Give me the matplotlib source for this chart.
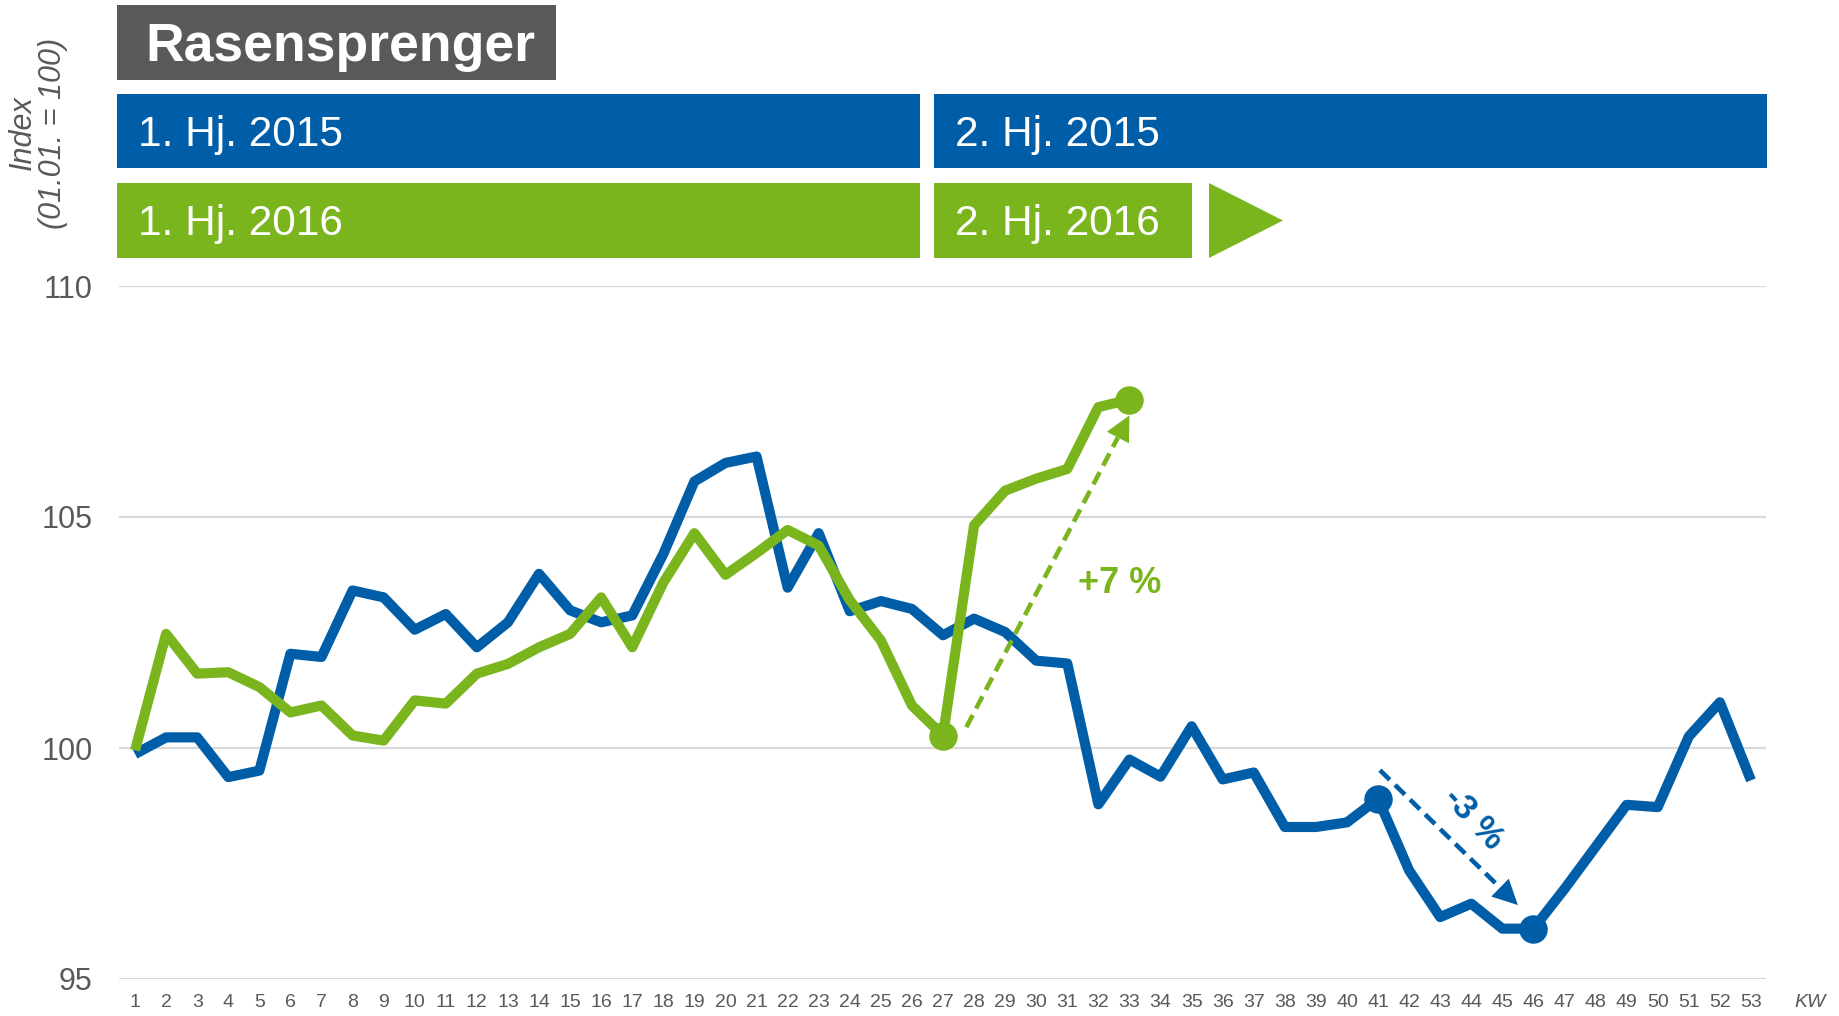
import numpy as np
import matplotlib
matplotlib.use("Agg")
import matplotlib.pyplot as plt
from matplotlib.patches import Rectangle, Polygon

plt.rcParams["font.family"] = ["Liberation Sans", "DejaVu Sans"]

# --- data (index, 01.01. = 100) ---
weeks = list(range(1, 54))
sales_2015 = [99.87, 100.23, 100.23, 99.37, 99.51, 102.04, 101.97, 103.41, 103.26, 102.56,
              102.90, 102.18, 102.72, 103.77, 102.98, 102.72, 102.87, 104.20, 105.77, 106.17,
              106.31, 103.47, 104.65, 102.96, 103.18, 103.01, 102.44, 102.80, 102.51, 101.89,
              101.83, 98.78, 99.75, 99.38, 100.47, 99.32, 99.47, 98.29, 98.29, 98.39,
              98.90, 97.35, 96.34, 96.63, 96.09, 96.09, 96.95, 97.86, 98.77, 98.72,
              100.25, 100.99, 99.30]
sales_2016 = [99.95, 102.47, 101.61, 101.64, 101.32, 100.77, 100.92, 100.27, 100.16, 101.03,
              100.96, 101.61, 101.82, 102.18, 102.47, 103.26, 102.18, 103.58, 104.65, 103.75,
              104.22, 104.72, 104.38, 103.20, 102.33, 100.92, 100.27, 104.82, 105.57, 105.83,
              106.04, 107.38, 107.54]
weeks_2016 = weeks[:len(sales_2016)]

y_ticks = [95, 100, 105, 110]
title = "Rasensprenger"
labels_2015 = ["1. Hj. 2015", "2. Hj. 2015"]
labels_2016 = ["1. Hj. 2016", "2. Hj. 2016"]

# highlighted points and trend arrows
marks_2016 = [27, 33]
marks_2015 = [41, 46]
arrow_2016 = ((27.75, 100.45), (33.0, 107.2))
arrow_2015 = ((41.06, 99.52), (45.5, 96.6))
label_2016 = "+7 %"
label_2015 = "-3 %"

BLUE = "#005EA8"
GREEN = "#7AB51E"
GRAY = "#595959"
GRID = "#D9D9D9"

W, H = 1840, 1016
fig = plt.figure(figsize=(W / 100, H / 100), dpi=100)
ax = fig.add_axes([119.5 / W, 1 - 979 / H, 1647 / W, 693 / H])

ax.set_xlim(0.5, 53.5)
ax.set_ylim(95, 110)
ax.set_yticks(y_ticks)
ax.set_xticks(weeks)
ax.set_xticklabels([str(w) for w in weeks])
ax.grid(axis="y", color=GRID, lw=1.6)
ax.set_axisbelow(True)
for s in ax.spines.values():
    s.set_visible(False)
ax.tick_params(axis="x", length=0, pad=11, labelsize=14, labelcolor=GRAY)
ax.tick_params(axis="y", length=0, pad=19.5, labelsize=22, labelcolor=GRAY)

line_kw = dict(lw=7.3, solid_joinstyle="round", solid_capstyle="butt", clip_on=False)
ax.plot(weeks, sales_2015, color=BLUE, zorder=3, **line_kw)
ax.plot(weeks_2016, sales_2016, color=GREEN, zorder=4, **line_kw)

# dots at start/end of the trend arrows
ax.plot(marks_2015, [sales_2015[w - 1] for w in marks_2015], "o", ms=19.5,
        color=BLUE, zorder=5, clip_on=False)
ax.plot(marks_2016, [sales_2016[w - 1] for w in marks_2016], "o", ms=19.5,
        color=GREEN, zorder=5, clip_on=False)

# dashed trend arrows with a solid head
head_px = 25
for (start, tip), col in [(arrow_2016, GREEN), (arrow_2015, BLUE)]:
    p0, p1 = ax.transData.transform([start, tip])
    d = (p1 - p0) / np.hypot(*(p1 - p0))
    base = ax.transData.inverted().transform(p1 - d * head_px)
    ax.plot([start[0], base[0]], [start[1], base[1]], color=col, lw=3.3,
            ls=(0, (3.0, 1.6)), dash_capstyle="butt", zorder=6)
    ax.annotate("", xy=tip, xytext=base, zorder=6,
                arrowprops=dict(arrowstyle="-|>,head_length=0.4,head_width=0.2",
                                color=col, lw=0, mutation_scale=45,
                                shrinkA=0, shrinkB=0))

ax.text(32.7, 103.56, label_2016, color=GREEN, fontsize=26, fontweight="bold",
        ha="center", va="center", zorder=6)
ax.text(44.05, 98.47, label_2015, color=BLUE, fontsize=25, fontweight="bold",
        rotation=-47, ha="center", va="center", rotation_mode="anchor", zorder=6)

ax.annotate("KW", xy=(54.9, 0), xycoords=("data", "axes fraction"),
            xytext=(0, -11), textcoords="offset points", ha="center", va="top",
            fontsize=14, style="italic", color=GRAY)

# y axis caption
fig.text(23 / W, 1 - 133 / H, "Index", rotation=90, ha="center", va="center",
         fontsize=22, style="italic", color=GRAY)
fig.text(53 / W, 1 - 133 / H, "(01.01. = 100)", rotation=90, ha="center",
         va="center", fontsize=22, style="italic", color=GRAY)

# header boxes, drawn in pixel coordinates
top = fig.add_axes([0, 0, 1, 1], zorder=-1)
top.set_xlim(0, W)
top.set_ylim(H, 0)
top.axis("off")

top.add_patch(Rectangle((117, 5), 439, 75, color=GRAY, lw=0))
top.text(145, 47, title, color="white", fontsize=38.5, fontweight="bold",
         ha="left", va="center")

top.add_patch(Rectangle((117, 94), 803, 74, color=BLUE, lw=0))
top.add_patch(Rectangle((934, 94), 833, 74, color=BLUE, lw=0))
top.add_patch(Rectangle((117, 183), 803, 75, color=GREEN, lw=0))
top.add_patch(Rectangle((934, 183), 258, 75, color=GREEN, lw=0))
top.add_patch(Polygon([(1209, 183), (1209, 258), (1283, 220.5)], closed=True,
                      color=GREEN, lw=0))

for x0, lab in zip([138, 955], labels_2015):
    top.text(x0, 135, lab, color="white", fontsize=30.5, ha="left", va="center")
for x0, lab in zip([138, 955], labels_2016):
    top.text(x0, 224, lab, color="white", fontsize=30.5, ha="left", va="center")

fig.savefig("out.png", dpi=100)
